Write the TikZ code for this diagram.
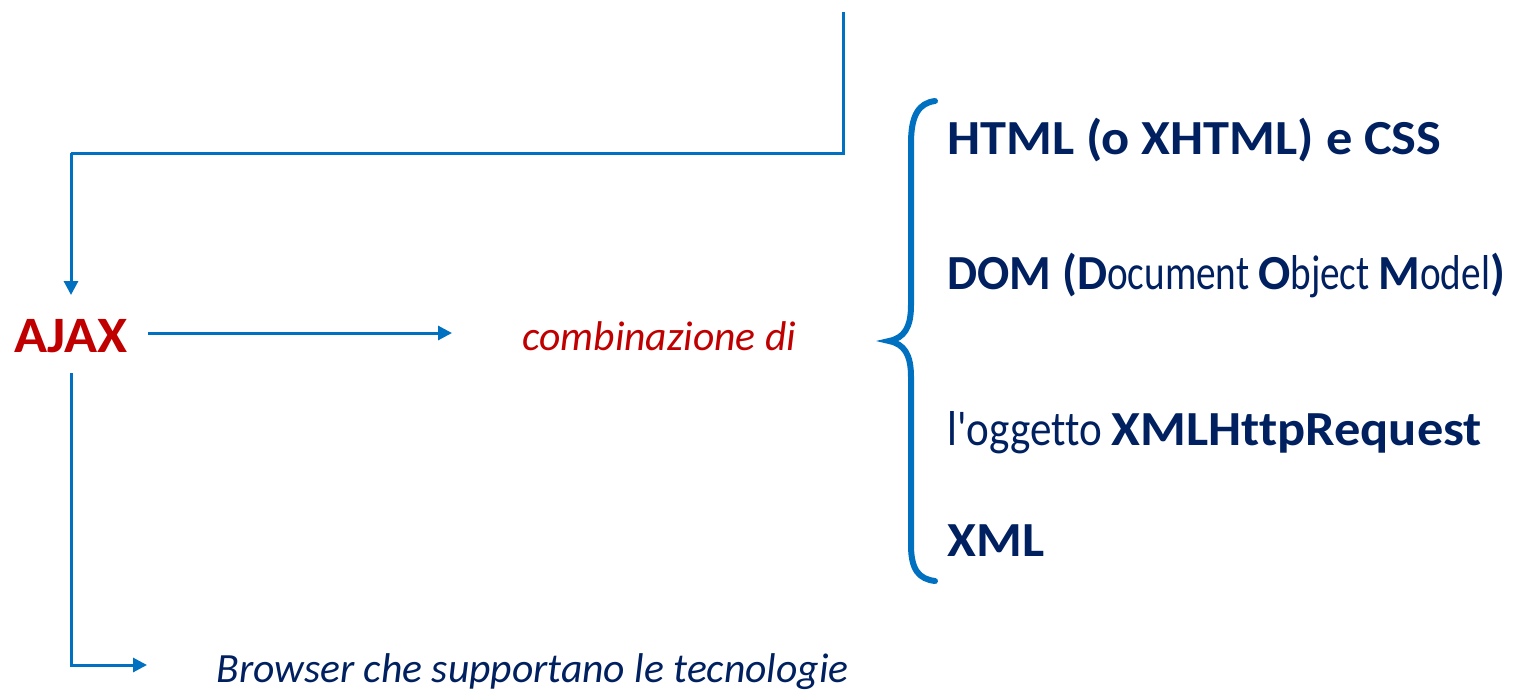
\documentclass[tikz,border=0pt]{standalone}
\usepackage{fontspec}
\setmainfont{Carlito}
\newfontfamily\fb[FakeStretch=1.07,Ligatures={NoCommon}]{Carlito}
\newfontfamily\fr[FakeStretch=0.88,Ligatures={NoCommon}]{Carlito}
\newcommand{\B}[1]{{\fb\bfseries #1}}
\usetikzlibrary{arrows.meta}
\definecolor{navy}{HTML}{002060}
\definecolor{ajred}{HTML}{C00000}
\definecolor{lineblue}{HTML}{0070C0}
\begin{document}
\begin{tikzpicture}[x=0.5pt,y=-0.5pt,
  arr/.style={draw=lineblue,line width=1.5pt,-{Triangle[length=7pt,width=7pt]}},
  ln/.style={draw=lineblue,line width=1.5pt},
  big/.style={font=\fontsize{24.5}{29}\selectfont\fr,text=navy,inner sep=0pt,anchor=base west},
  ital/.style={font=\fontsize{20.8}{24}\selectfont\itshape,inner sep=0pt,anchor=base west}]
\useasboundingbox (0,0) rectangle (1532,691);
% texts
\node[font=\fontsize{25.5}{30}\selectfont\fb\bfseries,text=ajred,inner sep=0pt,anchor=base] (ajax) at (71,352) {AJAX};
\node[ital,text=ajred] (comb) at (522,350) {combinazione di};
\node[ital,text=navy] (browser) at (216,682) {Browser che supportano le tecnologie};
\node[big] (html) at (947,154) {\B{HTML (o XHTML) e CSS}};
\node[big] (dom) at (947,289) {\scalebox{0.91}[1]{\B{DOM (D}ocument \B{O}bject \B{M}odel\B{)}}};
\node[big] (xhr) at (947,445) {l'oggetto \B{XMLHttpRequest}};
\node[big] (xml) at (947,556) {\B{XML}};
% connectors
\coordinate (topend) at (843,12);
\coordinate (corner) at (71,153);
\coordinate (ajaxin) at (71,295);
\coordinate (ajaxright) at (148,333);
\coordinate (combin) at (452,333);
\coordinate (ajaxdown) at (71,373);
\coordinate (brin) at (147,665);
\draw[ln] (topend) -- (topend |- corner) -- (corner);
\draw[arr] (corner) -- (ajaxin);
\draw[arr] (ajaxright) -- (combin);
\draw[arr] (ajaxdown) |- (brin);
% brace
\draw[draw=lineblue,line width=3pt,line cap=round]
  (935,101) .. controls (919,103) and (911,115) .. (911,143)
  -- (911,305) .. controls (911,328) and (904,338) .. (889,341)
  .. controls (904,344) and (911,354) .. (911,377)
  -- (911,545) .. controls (911,570) and (919,579) .. (935,581);
\end{tikzpicture}
\end{document}
